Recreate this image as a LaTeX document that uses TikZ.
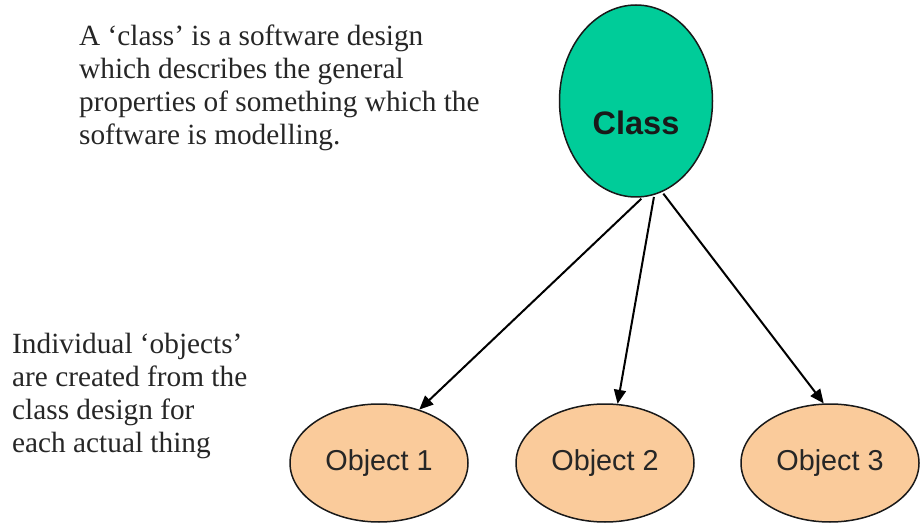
\documentclass[tikz,border=0pt]{standalone}
\usepackage{fontspec}
\setmainfont{Liberation Serif}
\newfontfamily\arialfont{Liberation Sans}
\usetikzlibrary{shapes.geometric,arrows.meta}
\definecolor{clsgreen}{RGB}{0,204,153}
\definecolor{objpeach}{RGB}{250,203,155}
\definecolor{edge}{RGB}{25,25,25}
\tikzset{
  clsnode/.style={ellipse, draw=edge, line width=1.5pt, fill=clsgreen, minimum width=153pt, minimum height=192pt, inner sep=0pt},
  objnode/.style={ellipse, draw=edge, line width=1.5pt, fill=objpeach, minimum width=178pt, minimum height=118pt, inner sep=0pt, font=\arialfont\fontsize{28.8}{32}\selectfont, text=black!85},
  desc/.style={anchor=north west, inner sep=0pt, align=left, font=\fontsize{29.3}{33}\selectfont, text=black!85},
  link/.style={line width=2pt, -{Triangle[length=14pt,width=12pt]}, shorten <=2pt}
}
\begin{document}
\begin{tikzpicture}[x=1pt,y=-1pt]
\useasboundingbox (0,0) rectangle (921,529);
\node[clsnode] (cls) at (636,101) {};
\node[anchor=base, font=\arialfont\bfseries\fontsize{32.5}{36}\selectfont, text=black!90] (clslabel) at (636,135) {Class};
\node[objnode] (o1) at (379,463) {Object 1};
\node[objnode] (o2) at (605,463) {Object 2};
\node[objnode] (o3) at (830,463) {Object 3};
\draw[link] (cls.-86) -- (o1.53.6);
\draw[link] (cls.-79.4) -- (o2.78.7);
\draw[link] (cls.-74.2) -- (o3.96.7);
\node[desc] (topdesc) at (79,25) {A `class' is a software design\\which describes the general\\properties of something which the\\software is modelling.};
\node[desc] (botdesc) at (12,333) {Individual `objects'\\are created from the\\class design for\\each actual thing};
\end{tikzpicture}
\end{document}
